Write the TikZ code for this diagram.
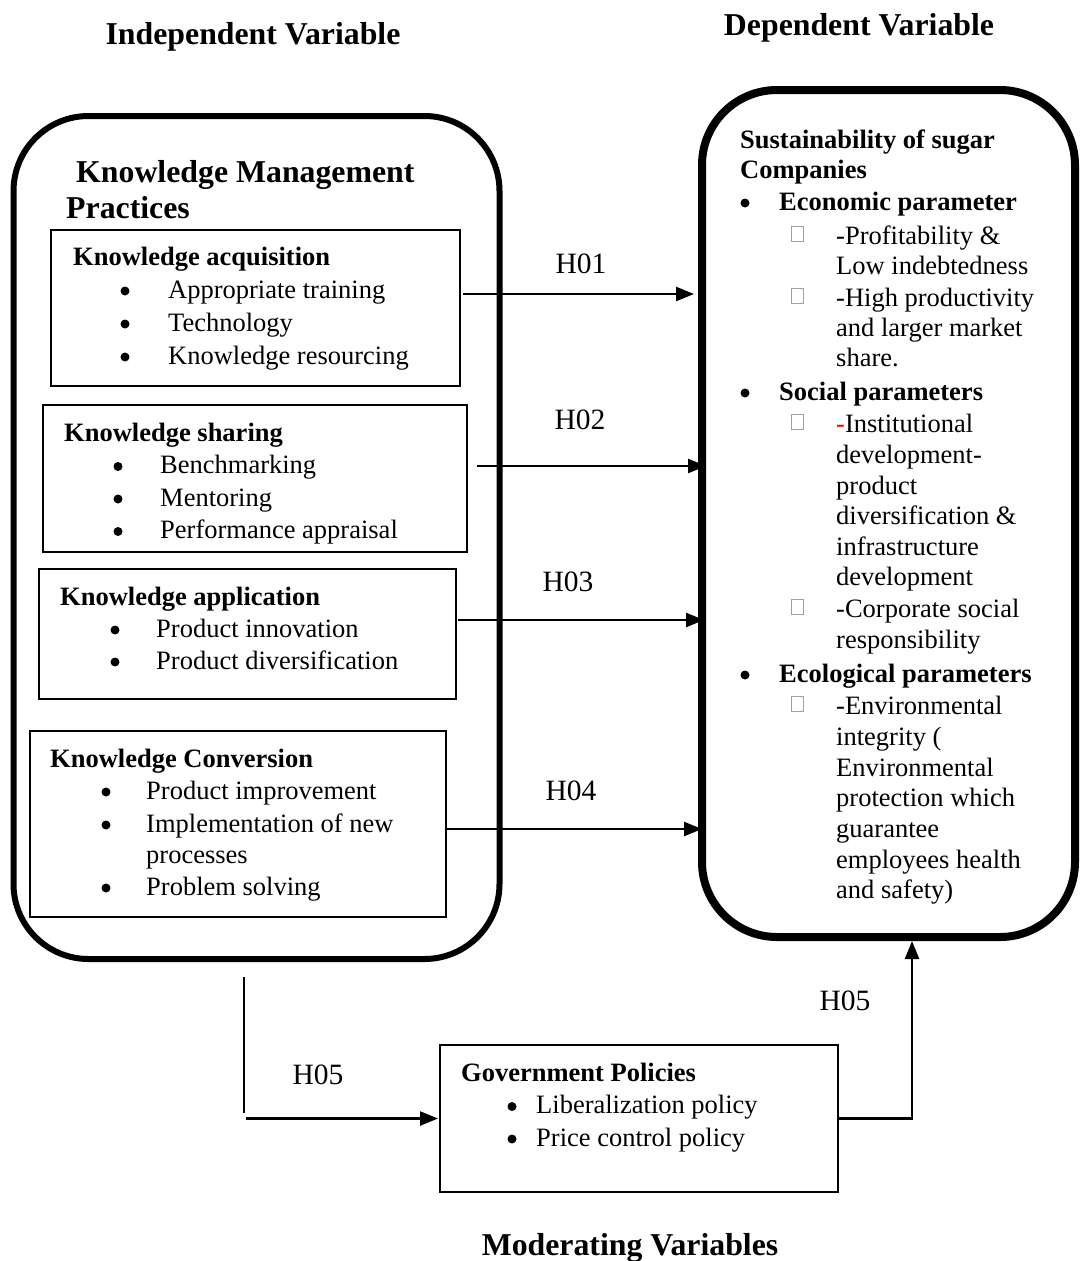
\documentclass[tikz,border=0pt]{standalone}
\usepackage{fontspec}
\setmainfont{Liberation Serif}
\usetikzlibrary{arrows.meta}
\begin{document}
\begin{tikzpicture}[x=1pt,y=-1pt,
  txt/.style={anchor=base west, inner sep=0, font=\fontsize{26.5}{30}\selectfont},
  btxt/.style={anchor=base west, inner sep=0, font=\fontsize{26.5}{30}\selectfont\bfseries},
  ttl/.style={anchor=base west, inner sep=0, font=\fontsize{31.8}{36}\selectfont\bfseries},
  lbl/.style={anchor=base, inner sep=0, font=\fontsize{29.5}{32}\selectfont},
  bul/.style={circle, fill, inner sep=0, minimum size=9, outer sep=0},
  sq/.style={draw=gray!75, line width=0.8, minimum width=12, minimum height=15, inner sep=0, outer sep=0},
  bigbox/.style={draw, rounded corners=75, outer sep=0, inner sep=0, anchor=north west},
  inbox/.style={draw, line width=1.8, outer sep=0, inner sep=0, anchor=north west},
  arr/.style={line width=2.5, -{Triangle[length=18,width=14]}},
  thinln/.style={line width=2}
]
\useasboundingbox (0,0) rectangle (1079,1261);

% headers
\node[ttl, anchor=base] (ivh) at (253,44) {Independent Variable};
\node[ttl, anchor=base] (dvh) at (859,35) {Dependent Variable};
\node[ttl, anchor=base] (mvh) at (630,1255) {Moderating Variables};

% big boxes
\node[bigbox, line width=6, minimum width=486, minimum height=843] (kmp) at (13.5,116) {};
\node[bigbox, line width=8, minimum width=373, minimum height=847] (dv) at (702,90) {};

\node[ttl] (kmt1) at (76,182) {Knowledge Management};
\node[ttl] (kmt2) at (66,218) {Practices};

% Box 1
\node[inbox, minimum width=409, minimum height=156] (ka) at (51,230) {};
\node[btxt] (kah) at (73,265) {Knowledge acquisition};
\foreach \t [count=\i] in {Appropriate training, Technology, Knowledge resourcing}{
  \node[bul] (kab\i) at (125,{265+33*\i-7}) {};
  \node[txt] (kai\i) at (168,{265+33*\i}) {\t};
}

% Box 2
\node[inbox, minimum width=424, minimum height=147] (ks) at (43,405) {};
\node[btxt] (ksh) at (64,441) {Knowledge sharing};
\foreach \t [count=\i] in {Benchmarking, Mentoring, Performance appraisal}{
  \node[bul] (ksb\i) at (118,{441+32.5*\i-7}) {};
  \node[txt] (ksi\i) at (160,{441+32.5*\i}) {\t};
}

% Box 3
\node[inbox, minimum width=417, minimum height=130] (kp) at (39,569) {};
\node[btxt] (kph) at (60,605) {Knowledge application};
\foreach \t [count=\i] in {Product innovation, Product diversification}{
  \node[bul] (kpb\i) at (115,{605+32*\i-7}) {};
  \node[txt] (kpi\i) at (156,{605+32*\i}) {\t};
}

% Box 4
\node[inbox, minimum width=416, minimum height=186] (kc) at (30,731) {};
\node[btxt] (kch) at (50,767) {Knowledge Conversion};
\node[bul] (kcb1) at (106,792) {};
\node[txt] (kci1) at (146,799) {Product improvement};
\node[bul] (kcb2) at (106,825) {};
\node[txt] (kci2) at (146,832) {Implementation of new};
\node[txt] (kci3) at (146,863) {processes};
\node[bul] (kcb4) at (106,888) {};
\node[txt] (kci4) at (146,895) {Problem solving};

% Government box
\node[inbox, minimum width=398, minimum height=147] (gov) at (440,1045) {};
\node[btxt] (govh) at (461,1081) {Government Policies};
\foreach \t [count=\i] in {Liberalization policy, Price control policy}{
  \node[bul] (govb\i) at (512,{1081+32.5*\i-7}) {};
  \node[txt] (govi\i) at (536,{1081+32.5*\i}) {\t};
}

% Right box text
\node[btxt] (dv1) at (740,148) {Sustainability of sugar};
\node[btxt] (dv2) at (740,178) {Companies};
\node[bul] (dvb1) at (745,203) {};
\node[btxt] (dve) at (779,210) {Economic parameter};
\node[bul] (dvb2) at (745,393) {};
\node[btxt] (dvs) at (779,400) {Social parameters};
\node[bul] (dvb3) at (745,675) {};
\node[btxt] (dvc) at (779,682) {Ecological parameters};
\foreach \y [count=\i] in {244,306,432,617,714}{
  \node[sq] (sq\i) at (797,{\y-10}) {};
}
\foreach \y/\t [count=\i] in {
  244/{-Profitability \&}, 274/{Low indebtedness},
  306/{-High productivity}, 336/{and larger market}, 366/{share.},
  432/{{\color{red}-}Institutional}, 463/{development-}, 494/{product},
  524/{diversification \&}, 555/{infrastructure}, 585/{development},
  617/{-Corporate social}, 648/{responsibility},
  714/{-Environmental}, 745/{integrity (}, 776/{Environmental},
  806/{protection which}, 837/{guarantee}, 868/{employees health},
  898/{and safety)}}{
  \node[txt] (dvl\i) at (836,\y) {\t};
}

% hypothesis arrows
\coordinate (h1) at (0,294);
\coordinate (h2) at (0,466);
\coordinate (h3) at (0,620);
\coordinate (h4) at (0,829);
\draw[arr] ([xshift=3pt]ka.east |- h1) -- ([xshift=-8pt]dv.west |- h1);
\draw[arr] ([xshift=10pt]ks.east |- h2) -- ([xshift=4pt]dv.west |- h2);
\draw[arr] ([xshift=2pt]kp.east |- h3) -- ([xshift=2pt]dv.west |- h3);
\draw[arr] (kc.east |- h4) -- (dv.west |- h4);
\node[lbl] (l1) at (581,273) {H01};
\node[lbl] (l2) at (580,429) {H02};
\node[lbl] (l3) at (568,591) {H03};
\node[lbl] (l4) at (571,800) {H04};

% moderating connectors
\coordinate (v1) at (244,977);
\coordinate (v2) at (244,1113);
\coordinate (v3) at (246,1118.5);
\coordinate (h5) at (912,0);
\draw[thinln] (v1) -- (v2);
\draw[arr] (v3) -- ([xshift=-2pt]gov.west);
\draw[arr] (gov.east) -| ([yshift=-4pt]dv.south -| h5);
\node[lbl] (l5) at (318,1084) {H05};
\node[lbl] (l6) at (845,1010) {H05};
\end{tikzpicture}
\end{document}
